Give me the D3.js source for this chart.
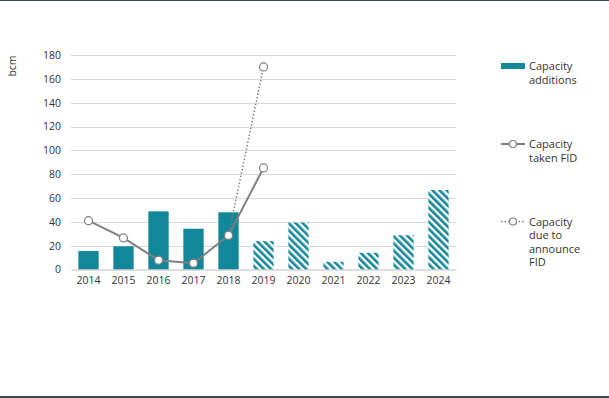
<!DOCTYPE html>
<html>
<head>
<meta charset="utf-8">
<script src="https://cdn.jsdelivr.net/npm/d3@7"></script>
<style>
  html, body { margin: 0; padding: 0; background: #fff; }
  svg { display: block; font-family: "Open Sans", "Noto Sans", sans-serif; }
</style>
</head>
<body>
<svg id="chart" width="609" height="398"></svg>
<script>
// chart data
const years = ["2014", "2015", "2016", "2017", "2018", "2019", "2020", "2021", "2022", "2023", "2024"];
const capacityAdditions = [15.5, 19.5, 48.8, 34.2, 48, 23.8, 39.5, 6.5, 14, 28.8, 66.7];
const firstForecastYear = "2019"; // bars from here on are hatched
const takenFID = [41, 26.5, 7.8, 5.3, 28.6, 85.2];
const takenFIDYears = ["2014", "2015", "2016", "2017", "2018", "2019"];
const dueFID = [28.6, 170];
const dueFIDYears = ["2018", "2019"];
const yTicks = [0, 20, 40, 60, 80, 100, 120, 140, 160, 180];
const legendLabels = [["Capacity", "additions"], ["Capacity", "taken FID"], ["Capacity", "due to", "announce", "FID"]];

const teal = "#12879a";
const grey = "#7f7f7f";
const textCol = "#333";
const fontSize = 10.5;

const svg = d3.select("#chart");
const width = 609, height = 398;

// frame lines top and bottom
svg.append("rect").attr("x", 0).attr("y", 0).attr("width", width).attr("height", 1).attr("fill", "#3b4a58");
svg.append("rect").attr("x", 0).attr("y", height - 2).attr("width", width).attr("height", 2).attr("fill", "#3b4a58");

const defs = svg.append("defs");
const pat = defs.append("pattern")
  .attr("id", "hatch")
  .attr("patternUnits", "userSpaceOnUse")
  .attr("width", 5)
  .attr("height", 5)
  .attr("patternTransform", "rotate(-45)");
pat.append("rect").attr("width", 5).attr("height", 5).attr("fill", "#fff");
pat.append("rect").attr("width", 2.6).attr("height", 5).attr("fill", teal);

const x = d3.scaleBand().domain(years).range([71, 456]).padding(0);
const y = d3.scaleLinear().domain([0, 180]).range([269.5, 55]);
const barW = x.bandwidth() * 0.58;
const cx = d => x(d) + x.bandwidth() / 2;

// gridlines
svg.append("g")
  .selectAll("line")
  .data(yTicks.filter(d => d > 0))
  .enter().append("line")
  .attr("x1", 71).attr("x2", 456)
  .attr("y1", d => Math.round(y(d)) + 0.5)
  .attr("y2", d => Math.round(y(d)) + 0.5)
  .attr("stroke", "#d9d9d9")
  .attr("stroke-width", 1);

// y axis labels
const yAxis = svg.append("g")
  .attr("transform", "translate(61,0)")
  .call(d3.axisLeft(y).tickValues(yTicks).tickSize(0).tickPadding(0));
yAxis.select(".domain").remove();
yAxis.selectAll("text").attr("font-size", fontSize).attr("fill", textCol).attr("font-family", "Open Sans, sans-serif");

// unit label
svg.append("text")
  .attr("transform", "translate(16,66) rotate(-90)")
  .attr("text-anchor", "middle")
  .attr("font-size", fontSize)
  .attr("fill", textCol)
  .text("bcm");

// bars
svg.append("g")
  .selectAll("rect")
  .data(years.map((yr, i) => ({ yr, v: capacityAdditions[i] })))
  .enter().append("rect")
  .attr("x", d => cx(d.yr) - barW / 2)
  .attr("width", barW)
  .attr("y", d => y(d.v))
  .attr("height", d => y(0) - y(d.v))
  .attr("fill", d => (+d.yr >= +firstForecastYear ? "url(#hatch)" : teal));

// x axis
const xAxis = svg.append("g")
  .attr("transform", "translate(0," + y(0) + ")")
  .call(d3.axisBottom(x).tickSize(0).tickPadding(7));
xAxis.select(".domain").attr("stroke", "#bfbfbf").attr("stroke-width", 1.2);
xAxis.selectAll("text").attr("font-size", fontSize).attr("fill", textCol).attr("font-family", "Open Sans, sans-serif");

const line = d3.line().x(d => cx(d.yr)).y(d => y(d.v));

const dueData = dueFIDYears.map((yr, i) => ({ yr, v: dueFID[i] }));
const takenData = takenFIDYears.map((yr, i) => ({ yr, v: takenFID[i] }));

svg.append("path")
  .datum(dueData)
  .attr("d", line)
  .attr("fill", "none")
  .attr("stroke", grey)
  .attr("stroke-width", 1.5)
  .attr("stroke-dasharray", "1.5,2");

svg.append("path")
  .datum(takenData)
  .attr("d", line)
  .attr("fill", "none")
  .attr("stroke", grey)
  .attr("stroke-width", 2);

svg.append("g")
  .selectAll("circle")
  .data(takenData.concat(dueData.slice(1)))
  .enter().append("circle")
  .attr("cx", d => cx(d.yr))
  .attr("cy", d => y(d.v))
  .attr("r", 4)
  .attr("fill", "#fff")
  .attr("stroke", grey)
  .attr("stroke-width", 1.2);

// legend
const legendY = [66, 144, 221.5];
const lg = svg.append("g").attr("font-size", 11).attr("fill", textCol);
legendLabels.forEach((lines, i) => {
  const g = lg.append("g").attr("transform", "translate(501," + legendY[i] + ")");
  if (i === 0) {
    g.append("rect").attr("x", 0).attr("y", -3).attr("width", 24).attr("height", 6).attr("fill", teal);
  } else {
    g.append("line").attr("x1", 0).attr("x2", 24).attr("y1", 0).attr("y2", 0)
      .attr("stroke", grey).attr("stroke-width", i === 1 ? 2 : 1.5)
      .attr("stroke-dasharray", i === 2 ? "1.5,2" : null);
    g.append("circle").attr("cx", 12).attr("cy", 0).attr("r", 3.5)
      .attr("fill", "#fff").attr("stroke", grey).attr("stroke-width", 1.2);
  }
  const t = g.append("text").attr("x", 28).attr("y", 4);
  lines.forEach((s, j) => {
    t.append("tspan").attr("x", 28).attr("dy", j === 0 ? 0 : 13.6).text(s);
  });
});
</script>
</body>
</html>
